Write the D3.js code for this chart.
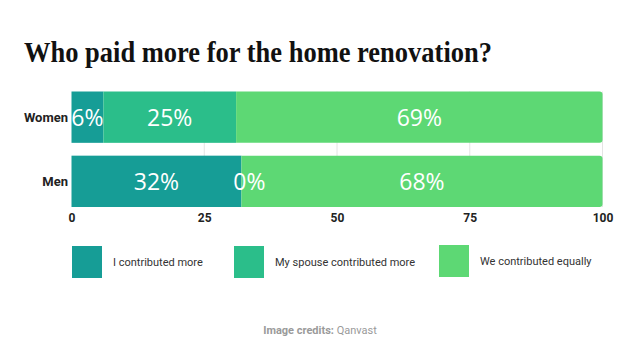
<!DOCTYPE html>
<html><head><meta charset="utf-8">
<script src="https://cdn.jsdelivr.net/npm/d3@7"></script>
<style>body{margin:0;background:#fff;} svg{display:block;}</style>
</head><body>
<svg id="c" width="640" height="360"></svg>
<script>
const categories = ["Women", "Men"];
const seriesNames = ["I contributed more", "My spouse contributed more", "We contributed equally"];
const iContributed = [6, 32];
const spouseContributed = [25, 0];
const equally = [69, 68];
const xTicks = [0, 25, 50, 75, 100];
const colors = ["#169d96", "#2bbe8a", "#5dd874"];

const svg = d3.select("#c");
const x = d3.scaleLinear().domain([0, 100]).range([71.5, 602.5]);
const y = d3.scaleBand().domain(categories).range([91.5, 207]).paddingInner(0.2).paddingOuter(0);

// title
svg.append("text").attr("x", 24).attr("y", 62)
  .attr("font-family", "'Liberation Serif', 'DejaVu Serif', serif")
  .attr("font-weight", "bold").attr("font-size", 29).attr("fill", "#111")
  .attr("textLength", 468).attr("lengthAdjust", "spacingAndGlyphs")
  .text("Who paid more for the home renovation?");

// gridlines
svg.append("g").selectAll("line").data(xTicks.slice(1)).join("line")
  .attr("x1", d => x(d)).attr("x2", d => x(d))
  .attr("y1", y.range()[0]).attr("y2", y.range()[1])
  .attr("stroke", "#e4e4e4").attr("stroke-width", 1);

// stacked data
const rows = categories.map((c, i) => ({cat: c, v: [iContributed[i], spouseContributed[i], equally[i]]}));
const segs = [];
rows.forEach(r => {
  let acc = 0;
  r.v.forEach((v, k) => { segs.push({cat: r.cat, k, v, x0: acc, x1: acc + v, last: k === 2}); acc += v; });
});

const g = svg.append("g");
segs.forEach(s => {
  const x0 = x(s.x0), x1 = x(s.x1), y0 = y(s.cat), h = y.bandwidth();
  if (s.last) {
    const r = 3;
    g.append("path").attr("fill", colors[s.k])
      .attr("d", `M${x0},${y0}H${x1 - r}Q${x1},${y0} ${x1},${y0 + r}V${y0 + h - r}Q${x1},${y0 + h} ${x1 - r},${y0 + h}H${x0}Z`);
  } else if (s.v > 0) {
    g.append("rect").attr("x", x0).attr("y", y0).attr("width", x1 - x0).attr("height", h).attr("fill", colors[s.k]);
  }
});
// labels
svg.append("g").selectAll("text").data(segs).join("text")
  .attr("x", d => (x(d.x0) + x(d.x1)) / 2 + (d.v === 0 ? 8 : 0))
  .attr("y", d => y(d.cat) + y.bandwidth() / 2 + 9)
  .attr("text-anchor", "middle").attr("fill", "#fff")
  .attr("font-family", "'Open Sans', sans-serif").attr("font-size", 23)
  .text(d => d.v + "%");

// y labels
svg.append("g").selectAll("text").data(categories).join("text")
  .attr("x", 68).attr("y", d => y(d) + y.bandwidth() / 2 + 5)
  .attr("text-anchor", "end").attr("font-family", "Roboto, sans-serif")
  .attr("font-weight", "bold").attr("font-size", 13).attr("fill", "#222")
  .text(d => d);

// x axis tick labels
const ax = svg.append("g").attr("transform", "translate(0,207)")
  .call(d3.axisBottom(x).tickValues(xTicks).tickSize(0).tickPadding(6));
ax.select(".domain").remove();
ax.selectAll("text").attr("font-family", "Roboto, sans-serif").attr("font-weight", "bold")
  .attr("font-size", 12).attr("fill", "#222");

// legend
const legX = [72, 234, 439];
const lg = svg.append("g");
seriesNames.forEach((n, i) => {
  lg.append("rect").attr("x", legX[i]).attr("y", i === 2 ? 245 : 246).attr("width", 30).attr("height", 32)
    .attr("fill", colors[i]);
  lg.append("text").attr("x", legX[i] + 41).attr("y", i === 2 ? 265 : 266)
    .attr("font-family", "Roboto, sans-serif").attr("font-size", 11).attr("fill", "#333")
    .text(n);
});

// credits
const cr = svg.append("text").attr("x", 320).attr("y", 334).attr("text-anchor", "middle")
  .attr("font-family", "Roboto, sans-serif").attr("font-size", 11).attr("fill", "#9a9a9a");
cr.append("tspan").attr("font-weight", "bold").text("Image credits: ");
cr.append("tspan").text("Qanvast");
</script>
</body></html>
